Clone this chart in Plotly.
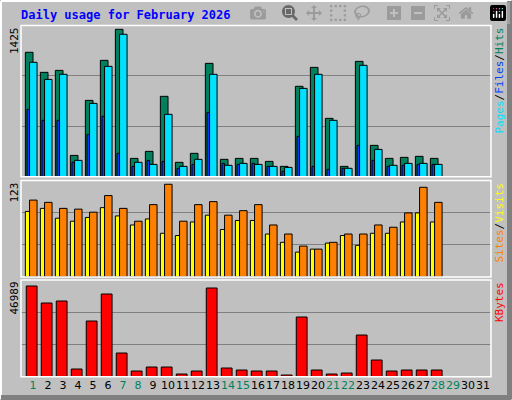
import plotly.graph_objects as go

days = list(range(1, 32))
hits = [1203,1009,1028,206,738,1125,1425,177,245,777,139,226,1096,168,177,177,148,100,874,1057,564,100,1115,303,177,187,197,177]
files = [1106,941,990,158,709,1067,1377,139,119,603,100,168,990,110,129,119,100,90,854,990,545,81,1077,264,110,129,129,119]
pages = [651,545,545,139,409,584,226,100,158,148,81,119,622,129,119,129,100,52,390,100,71,81,303,158,100,110,119,119]
visits = [102,99,91,90,86,108,91,74,96,123,74,96,100,82,88,96,69,57,41,37,46,57,57,69,66,85,119,99]
sites = [87,91,78,74,79,92,81,69,77,58,55,73,82,63,75,75,57,46,33,37,45,55,42,58,58,73,85,73]
kbytes = [46989,38178,39214,3973,28849,42842,12265,2937,5010,5010,1382,2937,45952,4492,3455,2937,2937,864,30922,3455,1382,1900,21594,8638,2937,3455,3455,3455]
weekend = [1,7,8,14,15,21,22,28,29]
max_labels = ["1425", "123", "46989"]

W, H = 512, 400
L, R, T, B = 21, 21, 25, 23
pw, ph = W - L - R, H - T - B
def fy(p): return (H - B - p) / ph
def fx(p): return (p - L) / pw

GRAY = "#c0c0c0"
fig = go.Figure()
dx = days[:28]
def bar(y, off, w, col, ax):
    fig.add_trace(go.Bar(x=dx, y=y, offset=off, width=w, marker=dict(color=col, line=dict(color="black", width=1)),
                         xaxis="x", yaxis=ax, showlegend=False, hoverinfo="skip"))
bar(hits, -0.51, 0.51, "#00805c", "y")
bar(pages, -0.40, 0.17, "#0040ff", "y")
bar(files, -0.23, 0.50, "#00e0ff", "y")
bar(sites, -0.51, 0.28, "#ffff00", "y2")
bar(visits, -0.23, 0.50, "#ff8000", "y2")
bar(kbytes, -0.45, 0.72, "#ff0000", "y3")

top = [1462, 128, 50100]
doms = [[fy(176.7), fy(25.5)], [fy(277), fy(180.5)], [fy(376.7), fy(280)]]
ticktext = [f"<span style='color:{'#00805c' if d in weekend else 'black'}'>{d}</span>" for d in days]
lay = dict(
    width=W, height=H, paper_bgcolor=GRAY, plot_bgcolor=GRAY,
    margin=dict(l=L, r=R, t=T, b=B, autoexpand=False), barmode="overlay",
    font=dict(family="DejaVu Sans Mono", size=11, color="black"),
    xaxis=dict(range=[0.2, 31.53], tickvals=days, ticktext=ticktext, showgrid=False, zeroline=False,
               ticks="", tickangle=0, tickfont=dict(size=11, family="DejaVu Sans"), anchor="y3",
               automargin=False),
)
for i, name in enumerate(["yaxis", "yaxis2", "yaxis3"]):
    lay[name] = dict(domain=doms[i], range=[0, top[i]], tickvals=[top[i]/3, 2*top[i]/3],
                     showticklabels=False, ticks="", gridcolor="#808080", gridwidth=1, zeroline=False,
                     anchor="x", automargin=False)
fig.update_layout(**lay)

shapes = []
for d in doms:
    shapes.append(dict(type="rect", xref="paper", yref="paper", x0=0, x1=1, y0=d[0], y1=d[1],
                       line=dict(color="white", width=1.5), layer="above"))
shapes.append(dict(type="line", xref="paper", yref="paper", x0=fx(1), x1=fx(1), y0=fy(399), y1=fy(1), line=dict(color="white", width=2)))
shapes.append(dict(type="line", xref="paper", yref="paper", x0=fx(1), x1=fx(511), y0=fy(1), y1=fy(1), line=dict(color="white", width=2)))
shapes.append(dict(type="line", xref="paper", yref="paper", x0=fx(509.5), x1=fx(509.5), y0=fy(399), y1=fy(1), line=dict(color="#808080", width=5)))
shapes.append(dict(type="line", xref="paper", yref="paper", x0=fx(1), x1=fx(511), y0=fy(397.5), y1=fy(397.5), line=dict(color="#808080", width=5)))
fig.update_layout(shapes=shapes)

ann = [dict(text="<b>Daily usage for February 2026</b>", x=fx(19), y=fy(15), xanchor="left", yanchor="middle",
            font=dict(color="#0000ff", size=12, family="DejaVu Sans Mono"))]
for i, lbl in enumerate(max_labels):
    ann.append(dict(text=lbl, textangle=-90, x=fx(14), y=doms[i][1], yanchor="top", xanchor="center",
                    font=dict(size=11, family="DejaVu Sans Mono")))
sl = "<span style='color:black'>/</span>"
rl = [
    "<span style='color:#00e0ff'>Pages</span>" + sl + "<span style='color:#0040ff'>Files</span>" + sl + "<span style='color:#00805c'>Hits</span>",
    "<span style='color:#ff8000'>Sites</span>" + sl + "<span style='color:#ffff00'>Visits</span>",
    "<span style='color:#ff0000'>KBytes</span>",
]
for i, t in enumerate(rl):
    ann.append(dict(text=t, textangle=-90, x=fx(499), y=doms[i][1], yanchor="top", xanchor="center",
                    font=dict(size=11, family="DejaVu Sans Mono")))
for a in ann:
    a.update(xref="paper", yref="paper", showarrow=False)
fig.update_layout(annotations=ann)
fig.write_html("out.html")
with open("out.html") as f:
    s = f.read()
s = s.replace("<head>", "<head><style>html,body{margin:0;padding:0;overflow:hidden}</style>", 1)
with open("out.html", "w") as f:
    f.write(s)
